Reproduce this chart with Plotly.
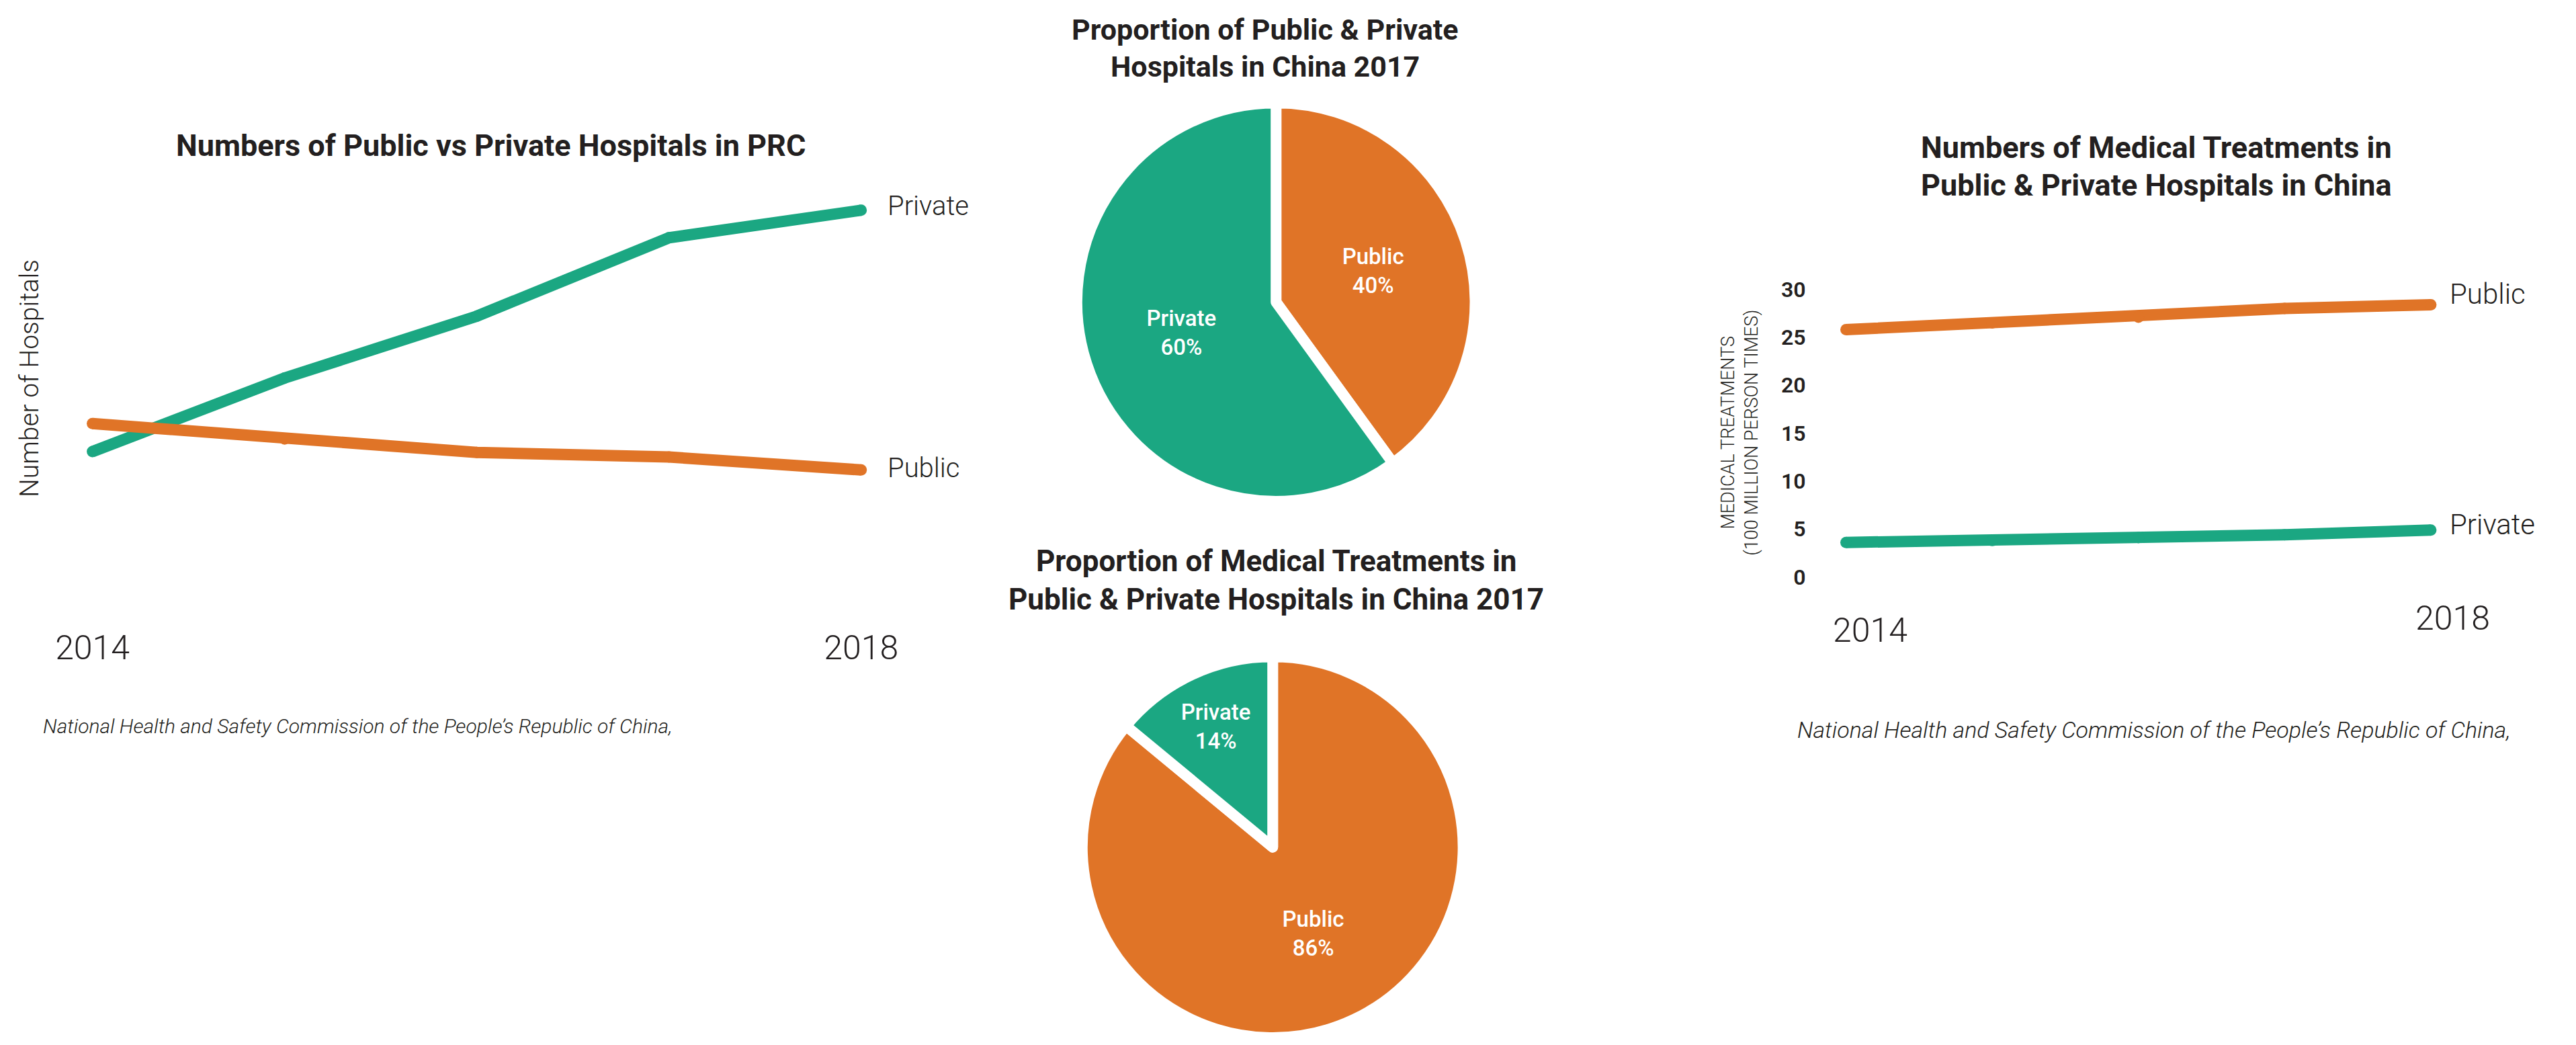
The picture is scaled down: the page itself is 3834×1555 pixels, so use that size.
import plotly.graph_objects as go

W, H = 3834, 1555
# where the paper actually lands in the screenshot (measured with a test frame)
X0, XW = 7.3, 3800.0
Y0, YH = 24.5, 1520.5

def px(x):
    return (x - X0) / XW

def py(y):
    return 1 - (y - Y0) / YH

# data
years = [2014, 2015, 2016, 2017, 2018]
year_ticks = [2014, 2018]
hosp_private = [12550, 15120, 17280, 20020, 20980]
hosp_public = [13530, 12990, 12520, 12360, 11910]
treat_public = [25.8, 26.5, 27.1, 28.0, 28.4]
treat_private = [3.6, 3.8, 4.1, 4.4, 4.9]
pie_labels = ['Public', 'Private']
hosp_share_2017 = [40, 60]
treat_share_2017 = [86, 14]

GREEN = '#1BA782'
ORANGE = '#E07427'
INK = '#231F20'
colors = [ORANGE, GREEN]
source = "National Health and Safety Commission of the People\u2019s Republic of China,"

fig = go.Figure()

# left line chart: number of hospitals
fig.add_trace(go.Scatter(x=years, y=hosp_private, mode='lines+markers', line=dict(color=GREEN, width=17),
                         marker=dict(color=GREEN, size=17), xaxis='x', yaxis='y', hoverinfo='x+y', name='Private'))
fig.add_trace(go.Scatter(x=years, y=hosp_public, mode='lines+markers', line=dict(color=ORANGE, width=17),
                         marker=dict(color=ORANGE, size=17), xaxis='x', yaxis='y', hoverinfo='x+y', name='Public'))

# right line chart: medical treatments
fig.add_trace(go.Scatter(x=years, y=treat_public, mode='lines+markers', line=dict(color=ORANGE, width=17),
                         marker=dict(color=ORANGE, size=17), xaxis='x2', yaxis='y2', hoverinfo='x+y', name='Public'))
fig.add_trace(go.Scatter(x=years, y=treat_private, mode='lines+markers', line=dict(color=GREEN, width=17),
                         marker=dict(color=GREEN, size=17), xaxis='x2', yaxis='y2', hoverinfo='x+y', name='Private'))

# pies (Public first, clockwise from 12 o'clock)
pie_style = dict(sort=False, direction='clockwise', rotation=0, textinfo='label+percent',
                 insidetextorientation='horizontal', textposition='inside',
                 marker=dict(colors=colors, line=dict(color='white', width=16)),
                 textfont=dict(family='Roboto', size=33, color='white', weight=500))
fig.add_trace(go.Pie(labels=pie_labels, values=hosp_share_2017, name='Hospitals 2017',
                     domain=dict(x=[px(1603), px(2197)], y=[py(745), py(151)]), **pie_style))
fig.add_trace(go.Pie(labels=pie_labels, values=treat_share_2017, name='Treatments 2017',
                     domain=dict(x=[px(1611), px(2179)], y=[0, py(977)]), **pie_style))

light = dict(family='Roboto', color=INK, weight=300)

annotations = []
titles = [
    ("Numbers of Public vs Private Hospitals in PRC", 730, 214, 45),
    ("Proportion of Public & Private", 1884, 42, 43),
    ("Hospitals in China 2017", 1884, 97, 43),
    ("Proportion of Medical Treatments in", 1900, 834, 44),
    ("Public & Private Hospitals in China 2017", 1900, 891, 44),
    ("Numbers of Medical Treatments in", 3211, 217, 45),
    ("Public & Private Hospitals in China", 3211, 274, 45),
]
for text, x, y, size in titles:
    annotations.append(dict(text=text, x=px(x), y=py(y), xref='paper', yref='paper', showarrow=False,
                            xanchor='center', yanchor='middle',
                            font=dict(family='Roboto', size=size, color=INK, weight=700)))

# line end labels
annotations += [
    dict(text='Private', x=years[-1], y=hosp_private[-1], xref='x', yref='y', xanchor='left', xshift=37, yshift=6,
         showarrow=False, font=dict(size=40, **light)),
    dict(text='Public', x=years[-1], y=hosp_public[-1], xref='x', yref='y', xanchor='left', xshift=37, yshift=3,
         showarrow=False, font=dict(size=40, **light)),
    dict(text='Public', x=years[-1], y=treat_public[-1], xref='x2', yref='y2', xanchor='left', xshift=26, yshift=16,
         showarrow=False, font=dict(size=42, **light)),
    dict(text='Private', x=years[-1], y=treat_private[-1], xref='x2', yref='y2', xanchor='left', xshift=26, yshift=8,
         showarrow=False, font=dict(size=42, **light)),
]

# right chart year labels
annotations += [
    dict(text=str(year_ticks[0]), x=year_ticks[0], y=py(938), xref='x2', yref='paper', xshift=36,
         xanchor='center', yanchor='middle', showarrow=False, font=dict(size=50, **light)),
    dict(text=str(year_ticks[1]), x=year_ticks[1], y=py(920), xref='x2', yref='paper', xshift=33,
         xanchor='center', yanchor='middle', showarrow=False, font=dict(size=50, **light)),
]

# axis titles
annotations += [
    dict(text='Number of Hospitals', x=px(44), y=py(562), xref='paper', yref='paper', textangle=-90,
         xanchor='center', yanchor='middle', showarrow=False, font=dict(size=39, **light)),
    dict(text='MEDICAL TREATMENTS<br>(100 MILLION PERSON TIMES)', x=px(2590), y=py(643), xref='paper', yref='paper',
         textangle=-90, xanchor='center', yanchor='middle', showarrow=False, font=dict(size=27, **light)),
]

# sources
annotations += [
    dict(text='<i>' + source + '</i>', x=px(61), y=py(1080), xref='paper', yref='paper', xanchor='left',
         yanchor='middle', showarrow=False, font=dict(size=30, **light)),
    dict(text='<i>' + source + '</i>', x=px(2674), y=py(1086), xref='paper', yref='paper', xanchor='left',
         yanchor='middle', showarrow=False, font=dict(size=34, **light)),
]

fig.update_layout(
    width=W, height=H,
    margin=dict(l=0, r=0, t=0, b=0),
    paper_bgcolor='white', plot_bgcolor='white',
    showlegend=False,
    font=dict(family='Roboto', color=INK),
    xaxis=dict(domain=[px(60), px(1300)], range=[2013.731, 2018.063], tickvals=year_ticks,
               ticktext=[str(v) for v in year_ticks], showgrid=False, zeroline=False, showline=False,
               tickfont=dict(size=50, **light), anchor='y'),
    yaxis=dict(domain=[py(930), py(300)], range=[6484, 21238], visible=False, anchor='x'),
    xaxis2=dict(domain=[px(2700), px(3700)], range=[2013.775, 2018.367], visible=False, anchor='y2'),
    yaxis2=dict(domain=[py(858), py(429)], range=[0, 30], tickvals=[0, 5, 10, 15, 20, 25, 30],
                showgrid=False, zeroline=False, showline=False, ticklabelstandoff=10,
                tickfont=dict(family='Roboto', size=32, color=INK, weight=600), anchor='x2'),
    annotations=annotations,
)

fig.write_html("out.html")
